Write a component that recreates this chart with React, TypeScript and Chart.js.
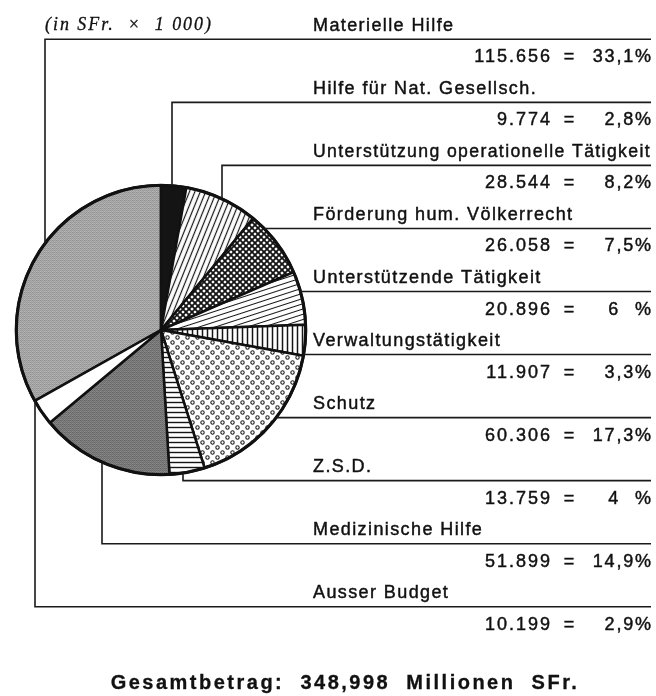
import React, { useEffect, useRef } from 'react';
import { Chart, registerables } from 'chart.js';

Chart.register(...registerables);

// ---------- data ----------
const categories = [
  'Materielle Hilfe',
  'Hilfe für Nat. Gesellsch.',
  'Unterstützung operationelle Tätigkeit',
  'Förderung hum. Völkerrecht',
  'Unterstützende Tätigkeit',
  'Verwaltungstätigkeit',
  'Schutz',
  'Z.S.D.',
  'Medizinische Hilfe',
  'Ausser Budget',
];
const amounts = [115656, 9774, 28544, 26058, 20896, 11907, 60306, 13759, 51899, 10199];
const amountLabels = ['115.656', '9.774', '28.544', '26.058', '20.896', '11.907', '60.306', '13.759', '51.899', '10.199'];
const percentLabels = ['33,1%', '2,8%', '8,2%', '7,5%', '6 %', '3,3%', '17,3%', '4 %', '14,9%', '2,9%'];
const titleText = '(in SFr.  ×  1 000)';
const totalText = 'Gesamtbetrag:  348,998  Millionen  SFr.';

// ---------- layout / style ----------
const W = 656;
const H = 696;
const ROW_TOP = 39.3;
const ROW_STEP = 63.05;
const LABEL_X = 313;
const RIGHT_X = 651;
const LABEL_FONT = '18px "Liberation Sans", Arial, sans-serif';
// leader type per category: vertical line at given x, or horizontal from pie edge
const leaderKinds: Array<{ dir: 'v' | 'h'; x?: number }> = [
  { dir: 'v', x: 45 },
  { dir: 'v', x: 172 },
  { dir: 'v', x: 222 },
  { dir: 'h' },
  { dir: 'h' },
  { dir: 'h' },
  { dir: 'h' },
  { dir: 'v', x: 183 },
  { dir: 'v', x: 102 },
  { dir: 'v', x: 35 },
];

function makeCanvas(w: number, h: number) {
  const c = document.createElement('canvas');
  c.width = w;
  c.height = h;
  return c;
}

function grayPattern(ctx: CanvasRenderingContext2D, base: number, amp: number) {
  const bayer = [0, 8, 2, 10, 12, 4, 14, 6, 3, 11, 1, 9, 15, 7, 13, 5];
  const c = makeCanvas(4, 4);
  const g = c.getContext('2d')!;
  const img = g.createImageData(4, 4);
  for (let i = 0; i < 16; i++) {
    const v = Math.round(base + (bayer[i] / 15 - 0.5) * amp);
    img.data[i * 4] = v;
    img.data[i * 4 + 1] = v;
    img.data[i * 4 + 2] = v;
    img.data[i * 4 + 3] = 255;
  }
  g.putImageData(img, 0, 0);
  return ctx.createPattern(c, 'repeat')!;
}

function linePattern(ctx: CanvasRenderingContext2D, spacing: number, lw: number, angle: number) {
  const c = makeCanvas(16, spacing);
  const g = c.getContext('2d')!;
  g.fillStyle = '#fff';
  g.fillRect(0, 0, c.width, c.height);
  g.fillStyle = '#151515';
  g.fillRect(0, (spacing - lw) / 2, c.width, lw);
  const p = ctx.createPattern(c, 'repeat')!;
  p.setTransform(new DOMMatrix().rotateSelf(angle));
  return p;
}

function crossPattern(ctx: CanvasRenderingContext2D, s: number, lw: number) {
  const c = makeCanvas(s, s);
  const g = c.getContext('2d')!;
  g.fillStyle = '#fff';
  g.fillRect(0, 0, s, s);
  g.strokeStyle = '#151515';
  g.lineWidth = lw;
  for (const k of [-s, 0, s]) {
    g.beginPath();
    g.moveTo(k, 0);
    g.lineTo(k + s, s);
    g.moveTo(k, s);
    g.lineTo(k + s, 0);
    g.stroke();
  }
  return ctx.createPattern(c, 'repeat')!;
}

function ringPattern(ctx: CanvasRenderingContext2D) {
  const c = makeCanvas(10, 10);
  const g = c.getContext('2d')!;
  g.fillStyle = '#fff';
  g.fillRect(0, 0, 10, 10);
  g.strokeStyle = '#222';
  g.lineWidth = 1.1;
  for (const [x, y] of [[2.5, 2.5], [7.5, 7.5]]) {
    g.beginPath();
    g.arc(x, y, 1.7, 0, Math.PI * 2);
    g.stroke();
  }
  return ctx.createPattern(c, 'repeat')!;
}

function boldText(ctx: CanvasRenderingContext2D, t: string, x: number, y: number, maxW?: number) {
  if (maxW !== undefined) {
    ctx.fillText(t, x, y, maxW);
    ctx.strokeText(t, x, y, maxW);
  } else {
    ctx.fillText(t, x, y);
    ctx.strokeText(t, x, y);
  }
}

const overlayPlugin = {
  id: 'overlay',
  afterDraw(chart: any) {
    const ctx: CanvasRenderingContext2D = chart.ctx;
    const arc = chart.getDatasetMeta(0).data[0];
    const cx: number = arc.x;
    const cy: number = arc.y;
    const r: number = arc.outerRadius;
    ctx.save();
    // outer rim
    ctx.strokeStyle = '#111';
    ctx.lineWidth = 3.2;
    ctx.beginPath();
    ctx.arc(cx, cy, r, 0, Math.PI * 2);
    ctx.stroke();

    // leaders + underlines
    ctx.strokeStyle = '#1a1a1a';
    ctx.lineWidth = 1.6;
    categories.forEach((_, i) => {
      const ly = ROW_TOP + ROW_STEP * i;
      const lk = leaderKinds[i];
      ctx.beginPath();
      if (lk.dir === 'v') {
        const dx = (lk.x as number) - cx;
        const dy = Math.sqrt(Math.max(r * r - dx * dx, 0));
        const y0 = ly < cy ? cy - dy : cy + dy;
        ctx.moveTo(lk.x as number, y0);
        ctx.lineTo(lk.x as number, ly);
        ctx.lineTo(RIGHT_X, ly);
      } else {
        const dy = ly - cy;
        const dx = Math.sqrt(Math.max(r * r - dy * dy, 0));
        ctx.moveTo(cx + dx, ly);
        ctx.lineTo(RIGHT_X, ly);
      }
      ctx.stroke();
    });

    // texts
    ctx.fillStyle = '#111';
    ctx.strokeStyle = '#111';
    ctx.lineWidth = 0.45;
    ctx.textBaseline = 'alphabetic';
    ctx.font = LABEL_FONT;
    categories.forEach((name, i) => {
      const ly = ROW_TOP + ROW_STEP * i;
      (ctx as any).letterSpacing = '1.4px';
      ctx.textAlign = 'left';
      boldText(ctx, name, LABEL_X, ly - 8.5, RIGHT_X - LABEL_X);

      const vy = ly + 23;
      (ctx as any).letterSpacing = '2px';
      ctx.textAlign = 'right';
      boldText(ctx, amountLabels[i], 552, vy);
      (ctx as any).letterSpacing = '0px';
      ctx.textAlign = 'center';
      boldText(ctx, '=', 569, vy);
      (ctx as any).letterSpacing = '1.8px';
      ctx.textAlign = 'right';
      const pl = percentLabels[i];
      if (pl.includes(' ')) {
        const [num, pct] = pl.split(' ');
        boldText(ctx, num, 620, vy);
        boldText(ctx, pct, RIGHT_X + 1.8, vy);
      } else {
        boldText(ctx, pl, RIGHT_X + 1.8, vy);
      }
    });

    // title
    (ctx as any).letterSpacing = '2px';
    ctx.textAlign = 'left';
    ctx.lineWidth = 0.3;
    ctx.font = 'italic 18px "Liberation Serif", "Times New Roman", serif';
    boldText(ctx, titleText, 45, 30, 168);

    // total
    (ctx as any).letterSpacing = '2.5px';
    ctx.textAlign = 'center';
    ctx.lineWidth = 0.3;
    ctx.font = 'bold 20px "Liberation Sans", Arial, sans-serif';
    boldText(ctx, totalText, 345, 689);
    ctx.restore();
  },
};

export default function App() {
  const ref = useRef<HTMLCanvasElement | null>(null);
  useEffect(() => {
    const canvas = ref.current!;
    const ctx = canvas.getContext('2d')!;
    const total = amounts.reduce((a, b) => a + b, 0);
    const fills = [
      grayPattern(ctx, 164, 40),
      '#141414',
      linePattern(ctx, 5, 1.2, -68),
      crossPattern(ctx, 6, 1.9),
      linePattern(ctx, 5, 1, -18),
      linePattern(ctx, 5, 1.5, 90),
      ringPattern(ctx),
      linePattern(ctx, 5, 1.4, 0),
      grayPattern(ctx, 120, 40),
      '#ffffff',
    ];
    const chart = new Chart(canvas, {
      type: 'pie',
      data: {
        labels: categories,
        datasets: [
          {
            data: amounts,
            backgroundColor: fills as any,
            borderColor: '#111',
            borderWidth: 2.5,
          },
        ],
      },
      options: {
        responsive: false,
        animation: false,
        events: [],
        rotation: -(amounts[0] / total) * 360,
        layout: { padding: { left: 15, top: 184, right: 349, bottom: 220 } },
        plugins: { legend: { display: false }, tooltip: { enabled: false }, title: { display: false } },
      },
      plugins: [overlayPlugin],
    });
    return () => chart.destroy();
  }, []);
  return (
    <div style={{ position: 'absolute', left: 0, top: 0, width: W, height: H, background: '#fff' }}>
      <canvas ref={ref} width={W} height={H} style={{ display: 'block', width: W, height: H }} />
    </div>
  );
}
